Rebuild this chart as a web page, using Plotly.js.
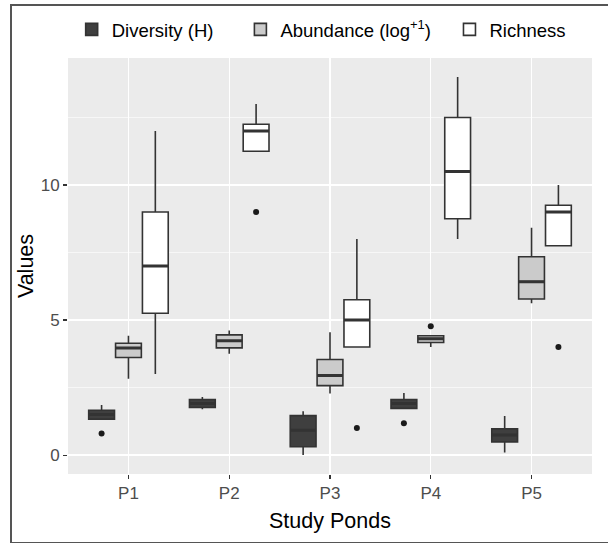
<!DOCTYPE html>
<html>
<head>
<meta charset="utf-8">
<script src="https://cdn.plot.ly/plotly-3.0.1.min.js"></script>
<style>
  html, body { margin: 0; padding: 0; background: #fff; overflow: hidden; }
  #wrap { position: relative; width: 608px; height: 544px; overflow: hidden; }
  #chart { position: absolute; left: 0; top: 0; width: 608px; height: 544px; }
  .fl { position: absolute; background: #555; pointer-events: none; }
</style>
</head>
<body>
<div id="wrap">
  <div id="chart"></div>
  <div class="fl" style="left:10px; top:4px; width:1.5px; height:539px;"></div>
  <div class="fl" style="left:10px; top:4px; width:598px; height:1.5px;"></div>
  <div class="fl" style="left:10px; top:541.5px; width:598px; height:1.5px;"></div>
</div>
<script>
// Categories
const ponds = ["P1", "P2", "P3", "P4", "P5"];
const seriesNames = ["Diversity (H)", "Abundance (log<sup>+1</sup>)", "Richness"];

// Diversity (H)
const divLower  = [1.33, 1.70, 0.00, 1.73, 0.10];
const divQ1     = [1.33, 1.76, 0.31, 1.73, 0.49];
const divMedian = [1.50, 1.91, 0.92, 1.91, 0.74];
const divQ3     = [1.66, 2.06, 1.46, 2.06, 0.97];
const divUpper  = [1.85, 2.15, 1.62, 2.30, 1.45];
const divOut    = [[0.80], [null], [null], [1.18], [null]];

// Abundance (log+1)
const abLower  = [2.83, 3.75, 2.28, 4.00, 5.62];
const abQ1     = [3.61, 3.97, 2.57, 4.17, 5.78];
const abMedian = [3.96, 4.23, 2.95, 4.31, 6.42];
const abQ3     = [4.14, 4.45, 3.54, 4.42, 7.34];
const abUpper  = [4.42, 4.61, 4.55, 4.42, 8.42];
const abOut    = [[null], [null], [null], [4.77], [null]];

// Richness
const riLower  = [3.00, 11.25, 4.00, 8.00, 7.75];
const riQ1     = [5.25, 11.25, 4.00, 8.75, 7.75];
const riMedian = [7.00, 12.00, 5.00, 10.50, 9.00];
const riQ3     = [9.00, 12.25, 5.75, 12.50, 9.25];
const riUpper  = [12.00, 13.00, 8.00, 14.00, 10.00];
const riOut    = [[null], [9], [1], [null], [4]];

const yTicks = [0, 5, 10];

const fills = ["#3f3f3f", "#cbcbcb", "#ffffff"];
const lineCol = "#333333";
const groups = ["div", "ab", "ri"];
const legends = ["legend", "legend2", "legend3"];

function boxTrace(i, lf, q1, med, q3, uf, outs) {
  return {
    type: "box",
    name: seriesNames[i],
    legend: legends[i],
    offsetgroup: groups[i],
    x: ponds,
    y: outs,
    lowerfence: lf, q1: q1, median: med, q3: q3, upperfence: uf,
    boxpoints: "outliers",
    jitter: 0, pointpos: 0,
    whiskerwidth: 0,
    fillcolor: fills[i],
    line: { color: lineCol, width: 1.6 },
    marker: { color: "#1a1a1a", size: 6, line: { width: 0 } },
    hoverinfo: "skip"
  };
}

// thicker median bars drawn over each box (same slot as its box)
function medianTrace(i, med) {
  return {
    type: "box",
    name: seriesNames[i] + " median",
    showlegend: false,
    offsetgroup: groups[i],
    x: ponds,
    lowerfence: med, q1: med, median: med, q3: med, upperfence: med,
    boxpoints: false,
    whiskerwidth: 0,
    fillcolor: "rgba(0,0,0,0)",
    line: { color: lineCol, width: 3 },
    hoverinfo: "skip"
  };
}

const data = [
  boxTrace(0, divLower, divQ1, divMedian, divQ3, divUpper, divOut),
  boxTrace(1, abLower, abQ1, abMedian, abQ3, abUpper, abOut),
  boxTrace(2, riLower, riQ1, riMedian, riQ3, riUpper, riOut),
  medianTrace(0, divMedian),
  medianTrace(1, abMedian),
  medianTrace(2, riMedian)
];

function legendAt(x) {
  return {
    orientation: "h",
    x: x, xanchor: "left",
    y: 1.065, yanchor: "middle",
    font: { size: 18.5, color: "#000" },
    bgcolor: "rgba(0,0,0,0)",
    itemclick: false
  };
}

const layout = {
  width: 608, height: 544,
  margin: { l: 68, r: 16, t: 57, b: 70 },
  paper_bgcolor: "rgba(0,0,0,0)",
  plot_bgcolor: "#EBEBEB",
  font: { family: "Liberation Sans, Arial, sans-serif", color: "#4D4D4D" },
  boxmode: "group",
  boxgap: 0.2,
  boxgroupgap: 0.04,
  showlegend: true,
  legend: legendAt(0.007),
  legend2: legendAt(0.329),
  legend3: legendAt(0.728),
  xaxis: {
    type: "category",
    range: [-0.6, 4.6],
    showgrid: true, gridcolor: "#ffffff", gridwidth: 1.2,
    zeroline: false, showline: false,
    ticks: "outside", ticklen: 4, tickwidth: 1.1, tickcolor: "#333333",
    tickfont: { size: 17, color: "#4D4D4D" },
    title: { text: "Study Ponds", font: { size: 21.5, color: "#000" }, standoff: 10 },
    automargin: false
  },
  yaxis: {
    range: [-0.7, 14.7],
    tickvals: yTicks, ticktext: yTicks.map(String),
    showgrid: true, gridcolor: "#ffffff", gridwidth: 1.2,
    minor: { dtick: 2.5, tick0: 2.5, showgrid: true, gridcolor: "#ffffff", gridwidth: 0.6, ticks: "" },
    zeroline: false, showline: false,
    ticks: "outside", ticklen: 4, tickwidth: 1.1, tickcolor: "#333333",
    tickfont: { size: 17, color: "#4D4D4D" },
    title: { text: "Values", font: { size: 21.5, color: "#000" }, standoff: 1 },
    automargin: false
  }
};

Plotly.newPlot("chart", data, layout, { displayModeBar: false, staticPlot: true });
</script>
</body>
</html>
